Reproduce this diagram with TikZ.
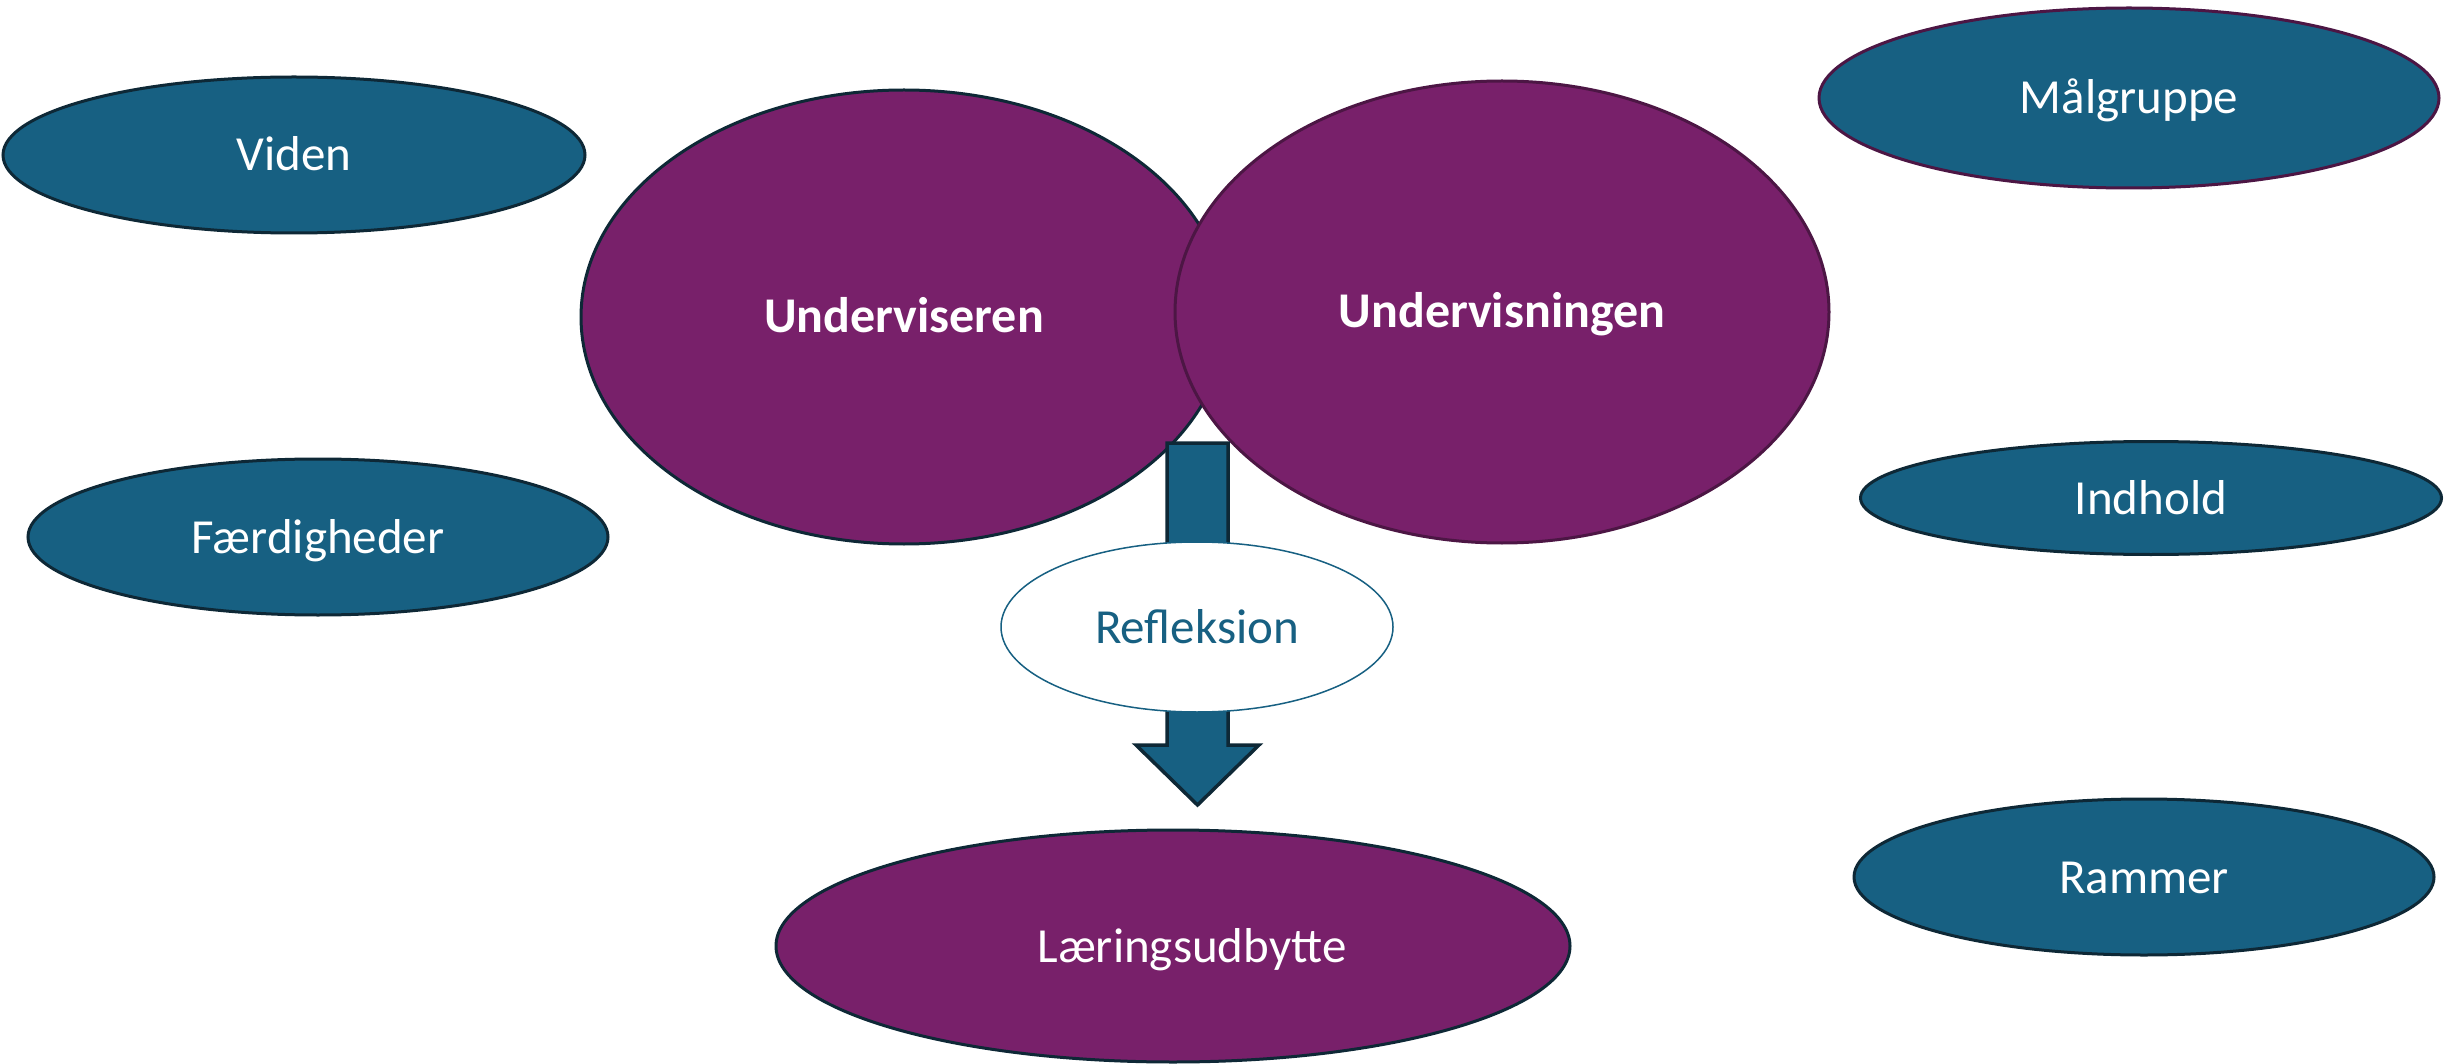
\documentclass[tikz,border=0pt]{standalone}
\usepackage{fontspec}
\setmainfont{Carlito}
\usetikzlibrary{shapes.geometric}
\definecolor{plum}{RGB}{120,32,106}
\definecolor{teal}{RGB}{23,96,130}
\definecolor{navyline}{RGB}{14,40,54}
\definecolor{plumline}{RGB}{76,22,68}
\tikzset{
  oval/.style={ellipse, inner sep=0pt, line width=3pt, text=white,
    font=\fontsize{49}{59}\selectfont, text height=32pt, text depth=0pt},
  blueoval/.style={oval, fill=teal, draw=navyline},
  purpleoval/.style={oval, fill=plum, draw=navyline},
  boldtext/.style={font=\fontsize{50}{60}\selectfont\bfseries},
  blockarrow/.style={fill=teal, draw=navyline, line width=3.5pt, line join=miter},
}
\begin{document}
\begin{tikzpicture}[x=1pt,y=-1pt]
\useasboundingbox[fill=white] (0,0) rectangle (2458,1064);
% left and right topic ovals
\node[blueoval, minimum width=582pt, minimum height=156pt] (viden) at (294,155) {Viden};
\node[blueoval, minimum width=580pt, minimum height=156pt] (faerd) at (318,537) {Færdigheder};
\node[blueoval, draw=plumline, minimum width=620pt, minimum height=180pt] (maal) at (2129,98) {Målgruppe};
\node[blueoval, minimum width=581pt, minimum height=113pt] (indhold) at (2151,498) {Indhold};
\node[blueoval, minimum width=580pt, minimum height=156pt] (rammer) at (2144,877) {Rammer};
% central ovals
\node[purpleoval, boldtext, minimum width=646pt, minimum height=454pt] (underviser) at (904,317) {Underviseren};
\node[purpleoval, boldtext, draw=plumline, minimum width=654pt, minimum height=462pt] (undervisning) at (1502,312) {Undervisningen};
% block arrow
\coordinate (atop) at (1197.5,443);
\coordinate (atip) at (1197.5,805);
\draw[blockarrow] ([xshift=-30.5pt]atop) -- ([xshift=30.5pt]atop) -- ([xshift=30.5pt]atop |- 0,745) -- ([xshift=61.5pt]atop |- 0,745) -- (atip) -- ([xshift=-61.5pt]atop |- 0,745) -- ([xshift=-30.5pt]atop |- 0,745) -- cycle;
\node[oval, fill=white, draw=teal, line width=1.5pt, text=teal, minimum width=392pt, minimum height=170pt] (refl) at (1197,627) {Refleksion};
\node[purpleoval, minimum width=794pt, minimum height=232pt] (laering) at (1173,946) {\hspace*{38pt}Læringsudbytte};
\end{tikzpicture}
\end{document}
